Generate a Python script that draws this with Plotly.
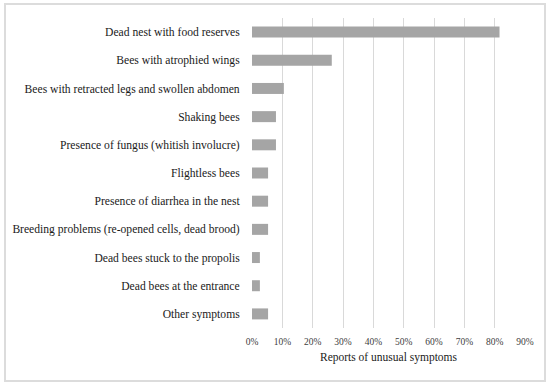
import plotly.graph_objects as go

categories = [
    "Dead nest with food reserves",
    "Bees with atrophied wings",
    "Bees with retracted legs and swollen abdomen",
    "Shaking bees",
    "Presence of fungus (whitish involucre)",
    "Flightless bees",
    "Presence of diarrhea in the nest",
    "Breeding problems (re-opened cells, dead brood)",
    "Dead bees stuck to the propolis",
    "Dead bees at the entrance",
    "Other symptoms",
]
values = [0.816, 0.263, 0.105, 0.079, 0.079, 0.053, 0.053, 0.053, 0.026, 0.026, 0.053]
tick_vals = [0, 0.1, 0.2, 0.3, 0.4, 0.5, 0.6, 0.7, 0.8, 0.9]
tick_text = ["0%", "10%", "20%", "30%", "40%", "50%", "60%", "70%", "80%", "90%"]
x_title = "Reports of unusual symptoms"

W, H = 550, 385
ML, MR, MT, MB = 252, 25, 18, 57
pw = W - ML - MR
ph = H - MT - MB

fig = go.Figure(
    go.Bar(
        x=values,
        y=categories,
        orientation="h",
        marker=dict(color="#A5A5A5", line=dict(width=0)),
        hoverinfo="x+y",
    )
)

font_family = "Liberation Serif"

fig.update_layout(
    width=W,
    height=H,
    margin=dict(l=ML, r=MR, t=MT, b=MB, autoexpand=False),
    paper_bgcolor="white",
    plot_bgcolor="white",
    bargap=0.61,
    showlegend=False,
    font=dict(family=font_family, color="#1a1a1a"),
    xaxis=dict(
        range=[0, 0.9],
        tickvals=tick_vals,
        ticktext=tick_text,
        tickfont=dict(size=9.5, family=font_family, color="#404040"),
        showgrid=True,
        gridcolor="#D9D9D9",
        gridwidth=1,
        zeroline=False,
        showline=False,
        ticks="outside",
        ticklen=5,
        tickcolor="rgba(0,0,0,0)",
        title=dict(text=x_title, font=dict(size=11.5, family=font_family, color="#1a1a1a"), standoff=6),
        fixedrange=True,
        automargin=False,
    ),
    yaxis=dict(
        categoryorder="array",
        categoryarray=categories[::-1],
        autorange=False,
        range=[-0.5, len(categories) - 0.5],
        tickfont=dict(size=11.6, family=font_family, color="#1a1a1a"),
        showgrid=False,
        zeroline=False,
        showline=False,
        ticks="outside",
        ticklen=9,
        tickcolor="rgba(0,0,0,0)",
        fixedrange=True,
        automargin=False,
    ),
    shapes=[
        dict(
            type="rect",
            xref="paper",
            yref="paper",
            x0=(5 - ML) / pw,
            x1=(545 - ML) / pw,
            y0=(H - MB - 381) / ph,
            y1=(H - MB - 4) / ph,
            line=dict(color="#DCDCDC", width=2),
            fillcolor="rgba(0,0,0,0)",
            layer="below",
        )
    ],
)

fig.write_html(
    "out.html",
    config={"displayModeBar": False},
    post_script="document.body.style.margin='0';document.body.style.padding='0';",
)
